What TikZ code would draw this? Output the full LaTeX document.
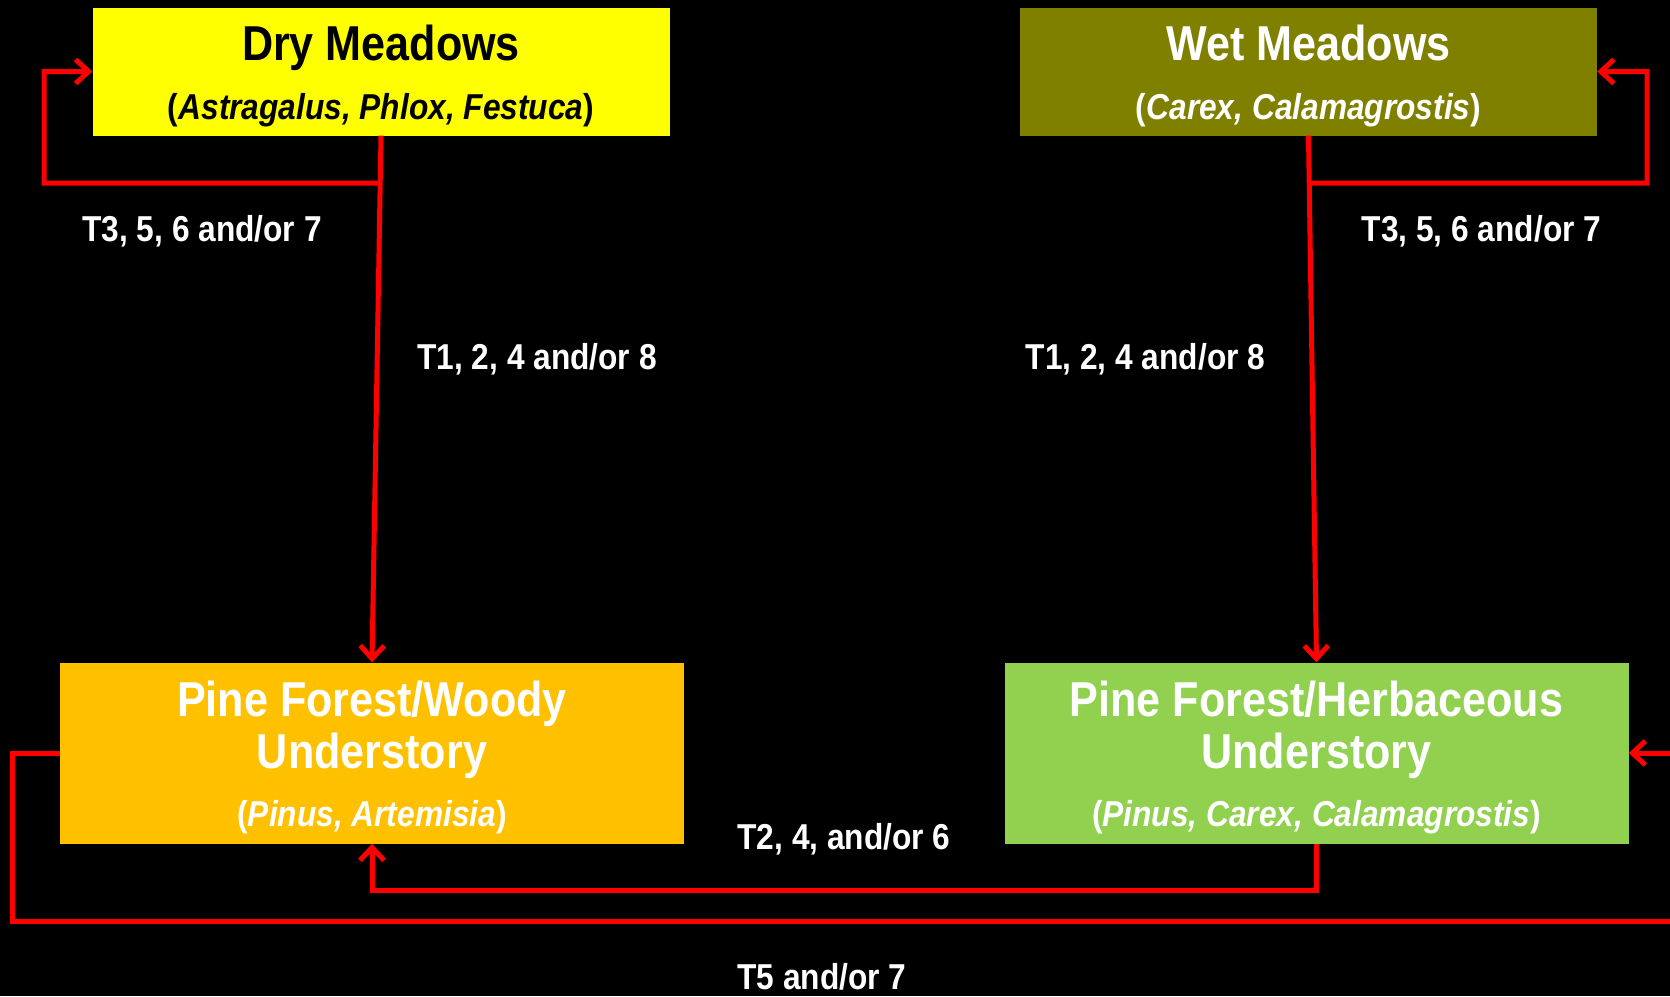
\documentclass[tikz,border=0pt]{standalone}
\usepackage{fontspec}
\setmainfont{Liberation Sans}[FakeStretch=0.88]
\usepackage{tikz}
\usetikzlibrary{arrows.meta,positioning}
\definecolor{meadowyellow}{HTML}{FFFF00}
\definecolor{meadowolive}{HTML}{808000}
\definecolor{woodyamber}{HTML}{FFC000}
\definecolor{herbgreen}{HTML}{92D050}
\definecolor{looprred}{HTML}{FF0000}
\newcommand{\boxtitle}{\fontsize{49}{52}\selectfont\bfseries}
\newcommand{\boxsub}{\fontsize{36}{52}\selectfont\bfseries}
\newcommand{\boxstrut}{\rule{0pt}{44pt}}
\tikzset{
  statebox/.style={
    align=center,
    inner sep=0pt,
    font=\boxtitle
  },
  toprow/.style={
    statebox,
    minimum width=577pt,
    minimum height=128pt
  },
  bottomrow/.style={
    statebox,
    minimum width=624pt,
    minimum height=181pt
  },
  transarrow/.style={
    draw=looprred,
    line width=5pt,
    -{Straight Barb[length=13pt,width=24pt]}
  },
  translabel/.style={
    text=white,
    inner sep=0pt,
    font=\fontsize{36}{40}\selectfont\bfseries
  }
}

\begin{document}
\begin{tikzpicture}[x=1pt,y=-1pt]
  \useasboundingbox (0,0) rectangle (1670,996);
  \clip (0,0) rectangle (1670,996);
  \fill[black] (0,0) rectangle (1670,996);

  % the four states
  \node[toprow, fill=meadowyellow, text=black] (dry) at (381,71.5)
    {\boxstrut\boxtitle Dry Meadows\\[7pt]\boxsub (\textit{Astragalus, Phlox, Festuca})};
  \node[toprow, fill=meadowolive, text=white] (wet) at (1308.5,71.5)
    {\boxstrut\boxtitle Wet Meadows\\[7pt]\boxsub (\textit{Carex, Calamagrostis})};
  \node[bottomrow, fill=woodyamber, text=white] (woody) at (372,753)
    {\boxstrut\boxtitle Pine Forest/Woody\\\boxtitle Understory\\[6.5pt]\boxsub (\textit{Pinus, Artemisia})};
  \node[bottomrow, fill=herbgreen, text=white] (herb) at (1316.5,753)
    {\boxstrut\boxtitle Pine Forest/Herbaceous\\\boxtitle Understory\\[6.5pt]\boxsub (\textit{Pinus, Carex, Calamagrostis})};

  % meadows to forest
  \draw[transarrow] (dry.south) -- (woody.north);
  \draw[transarrow] (wet.south) -- (herb.north);

  % meadows staying put
  \coordinate (dryfork) at ([yshift=-47.5pt]dry.south);
  \coordinate (dryloop) at (44,183);
  \draw[transarrow] (dryfork) -- (dryloop) |- (dry.west);
  \coordinate (wetfork) at ([yshift=-47.5pt]wet.south);
  \coordinate (wetloop) at (1647,183);
  \draw[transarrow] (wetfork) -- (wetloop) |- (wet.east);

  % between the two forests
  \coordinate (herbdrop) at ([yshift=-47pt]herb.south);
  \draw[transarrow] (herb.south) -- (herbdrop) -| (woody.south);
  \coordinate (woodyloop) at (12,921);
  \coordinate (farright) at (1700,921);
  \draw[transarrow] (woody.west) -| (woodyloop) -- (farright) |- (herb.east);

  % transition labels
  \node[translabel] (drystay) at (202,231) {T3, 5, 6 and/or 7};
  \node[translabel] (drydown) at (537,359) {T1, 2, 4 and/or 8};
  \node[translabel] (wetdown) at (1145.5,359) {T1, 2, 4 and/or 8};
  \node[translabel] (wetstay) at (1481.5,231) {T3, 5, 6 and/or 7};
  \node[translabel] (herbback) at (844,839) {T2, 4, and/or 6};
  \node[translabel] (woodyover) at (822,977) {T5 and/or 7};
\end{tikzpicture}
\end{document}
